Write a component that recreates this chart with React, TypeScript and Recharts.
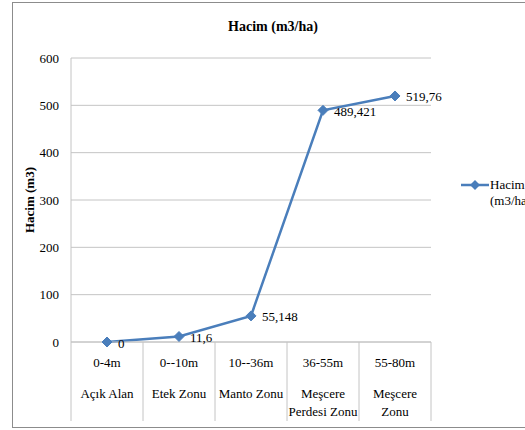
import React from "react";
import {
  LineChart,
  Line,
  XAxis,
  YAxis,
  CartesianGrid,
  LabelList,
} from "recharts";

const ranges = ["0-4m", "0--10m", "10--36m", "36-55m", "55-80m"];
const zones = [
  ["Açık Alan"],
  ["Etek Zonu"],
  ["Manto Zonu"],
  ["Meşcere", "Perdesi Zonu"],
  ["Meşcere", "Zonu"],
];
const hacim = [0, 11.6, 55.148, 489.421, 519.76];
const yTicks = [0, 100, 200, 300, 400, 500, 600];

const data = ranges.map((r, i) => ({ range: r, zone: zones[i], hacim: hacim[i] }));

const FONT = "Liberation Serif";
const BLUE = "#4a7ebb";
const GRID = "#c4c4c4";
const BAND = 72;

const Diamond = (props: any) => {
  const { cx, cy } = props;
  if (cx == null || cy == null) return null;
  const s = 5;
  return (
    <polygon
      points={`${cx},${cy - s} ${cx + s},${cy} ${cx},${cy + s} ${cx - s},${cy}`}
      fill={BLUE}
      stroke={BLUE}
    />
  );
};

// two-level category labels with separator lines between the bands
const CategoryTick = (props: any) => {
  const { x, y, index } = props;
  const row = data[index];
  return (
    <g fontFamily={FONT} fontSize={13} fill="#000">
      <line x1={x - BAND / 2} x2={x - BAND / 2} y1={y} y2={y + 79} stroke={GRID} />
      {index === data.length - 1 && (
        <line x1={x + BAND / 2} x2={x + BAND / 2} y1={y} y2={y + 79} stroke={GRID} />
      )}
      <text x={x} y={y + 20} textAnchor="middle" dominantBaseline="central">
        {row.range}
      </text>
      {row.zone.map((z: string, k: number) => (
        <text
          key={k}
          x={x}
          y={y + 51 + k * 18}
          textAnchor="middle"
          dominantBaseline="central"
        >
          {z}
        </text>
      ))}
    </g>
  );
};

const ValueLabel = (props: any) => {
  const { x, y, value } = props;
  return (
    <text
      x={x + 11}
      y={y + 1}
      fontFamily={FONT}
      fontSize={13}
      fill="#000"
      dominantBaseline="central"
    >
      {String(value).replace(".", ",")}
    </text>
  );
};

export default function App() {
  return (
    <div
      style={{
        position: "fixed",
        left: 0,
        top: 0,
        width: 525,
        height: 430,
        overflow: "hidden",
        background: "#fff",
        fontFamily: FONT,
      }}
    >
      <div
        style={{
          position: "absolute",
          left: 12,
          top: 2,
          width: 540,
          height: 426,
          border: "1px solid #8c8c8c",
          boxSizing: "border-box",
        }}
      />
      <div
        style={{
          position: "absolute",
          left: 0,
          top: 19,
          width: 546,
          textAlign: "center",
          fontWeight: "bold",
          fontSize: 14,
        }}
      >
        Hacim (m3/ha)
      </div>
      <div style={{ position: "absolute", left: 0, top: 0 }}>
        <LineChart
          width={525}
          height={430}
          data={data}
          margin={{ top: 58, right: 94, bottom: 8, left: 0 }}
        >
          <CartesianGrid vertical={false} stroke={GRID} />
          <XAxis
            dataKey="range"
            height={80}
            padding={{ left: BAND / 2, right: BAND / 2 }}
            axisLine={{ stroke: GRID }}
            tickLine={false}
            tickSize={0}
            tickMargin={0}
            interval={0}
            tick={<CategoryTick />}
          />
          <YAxis
            width={71}
            domain={[0, 600]}
            ticks={yTicks}
            axisLine={{ stroke: GRID }}
            tickLine={false}
            tickSize={0}
            tickMargin={12}
            tick={{ fontSize: 13, fill: "#000", fontFamily: FONT }}
            label={{
              value: "Hacim (m3)",
              angle: -90,
              position: "insideLeft",
              offset: 29,
              style: {
                fontFamily: FONT,
                fontWeight: "bold",
                fontSize: 13,
                fill: "#000",
                textAnchor: "middle",
              },
            }}
          />
          <Line
            dataKey="hacim"
            name="Hacim (m3/ha)"
            stroke={BLUE}
            strokeWidth={2.5}
            dot={<Diamond />}
            activeDot={false}
            isAnimationActive={false}
          >
            <LabelList dataKey="hacim" content={<ValueLabel />} />
          </Line>
        </LineChart>
      </div>
      <div
        style={{
          position: "absolute",
          left: 460,
          top: 177,
          display: "flex",
          alignItems: "flex-start",
          fontSize: 13,
        }}
      >
        <svg width={30} height={14} style={{ marginTop: 1 }}>
          <line x1={1} x2={29} y1={7} y2={7} stroke={BLUE} strokeWidth={2.5} />
          <polygon points="15,2 20,7 15,12 10,7" fill={BLUE} />
        </svg>
        <span style={{ width: 46, lineHeight: "16px" }}>Hacim (m3/ha)</span>
      </div>
    </div>
  );
}
